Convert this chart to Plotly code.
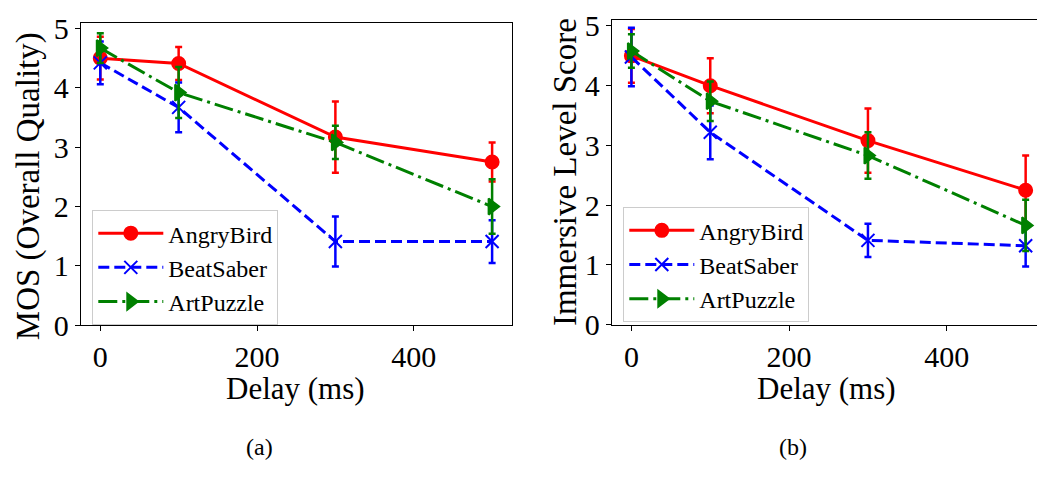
import plotly.graph_objects as go

# Delay settings (ms)
delay = [0, 100, 300, 500]
series_names = ["AngryBird", "BeatSaber", "ArtPuzzle"]

# (a) MOS (Overall Quality): means and error half-widths
mos_angry = [4.50, 4.41, 3.17, 2.75]
mos_angry_err = [0.36, 0.28, 0.60, 0.33]
mos_beat = [4.42, 3.67, 1.41, 1.41]
mos_beat_err = [0.36, 0.42, 0.42, 0.36]
mos_art = [4.67, 3.92, 3.08, 2.00]
mos_art_err = [0.25, 0.43, 0.28, 0.46]

# (b) Immersive level score: means and error half-widths
imm_angry = [4.50, 4.00, 3.08, 2.25]
imm_angry_err = [0.45, 0.46, 0.54, 0.58]
imm_beat = [4.48, 3.22, 1.41, 1.32]
imm_beat_err = [0.49, 0.45, 0.28, 0.35]
imm_art = [4.58, 3.74, 2.83, 1.66]
imm_art_err = [0.28, 0.33, 0.39, 0.43]

y_ticks = [0, 1, 2, 3, 4, 5]
x_ticks = [0, 200, 400]

FONT = "'Liberation Serif', 'Times New Roman', serif"
W, H = 1037, 480

styles = {
    "AngryBird": dict(color="#ff0000", dash="solid", symbol="circle", size=13),
    "BeatSaber": dict(color="#0000ff", dash="11px,5px", symbol="x-thin", size=13),
    "ArtPuzzle": dict(color="#008000", dash="19px,5px,3px,5px", symbol="triangle-right", size=14),
}

fig = go.Figure()


def add_series(name, y, err, xa, ya, legend):
    s = styles[name]
    fig.add_trace(go.Scatter(
        x=delay, y=y, name=name, mode="lines+markers",
        xaxis=xa, yaxis=ya, legend=legend,
        line=dict(color=s["color"], width=3, dash=s["dash"]),
        marker=dict(symbol=s["symbol"], size=s["size"], color=s["color"],
                    line=dict(color=s["color"], width=2)),
        error_y=dict(type="data", array=err, visible=True,
                     color=s["color"], thickness=2.5, width=3.5),
    ))


for name, y, e in zip(series_names, [mos_angry, mos_beat, mos_art],
                      [mos_angry_err, mos_beat_err, mos_art_err]):
    add_series(name, y, e, "x", "y", "legend")
for name, y, e in zip(series_names, [imm_angry, imm_beat, imm_art],
                      [imm_angry_err, imm_beat_err, imm_art_err]):
    add_series(name, y, e, "x2", "y2", "legend2")

axis_common = dict(
    showgrid=False, zeroline=False, showline=True, linecolor="black",
    linewidth=1, ticks="outside", ticklen=5, tickwidth=1, tickcolor="black",
    tickfont=dict(family=FONT, size=30, color="black"),
)

legend_common = dict(
    font=dict(family=FONT, size=24, color="black"),
    bgcolor="rgba(255,255,255,0.8)", bordercolor="#cccccc", borderwidth=1,
    xanchor="left", yanchor="top", traceorder="normal",
    itemwidth=65,
)

fig.update_layout(
    width=W, height=H, margin=dict(l=0, r=0, t=0, b=0),
    font=dict(family=FONT, color="black"),
    paper_bgcolor="white", plot_bgcolor="white",
    xaxis=dict(axis_common, domain=[80.7 / W, 511.7 / W], range=[-25, 525],
               tickvals=x_ticks, mirror=True, anchor="y"),
    yaxis=dict(axis_common, domain=[1 - 334 / H, 1 - 13.3 / H], range=[0, 5.1],
               tickvals=y_ticks, mirror=True, anchor="x"),
    xaxis2=dict(axis_common, domain=[611.7 / W, 1.0], range=[-25, 514.4],
                tickvals=x_ticks, mirror=True, anchor="y2"),
    yaxis2=dict(axis_common, domain=[1 - 333.3 / H, 1 - 10.6 / H], range=[0, 5.1],
                tickvals=y_ticks, mirror=False, anchor="x2"),
    legend=dict(legend_common, x=92.3 / W, y=1 - 212 / H),
    legend2=dict(legend_common, x=623.3 / W, y=1 - 209 / H),
    showlegend=True,
)

labels = [
    dict(text="MOS (Overall Quality)", x=28 / W, y=1 - 186.7 / H, textangle=-90, size=33),
    dict(text="Immersive Level Score", x=565 / W, y=1 - 171.7 / H, textangle=-90, size=33),
    dict(text="Delay (ms)", x=295.3 / W, y=1 - 401 / H, textangle=0, size=31),
    dict(text="Delay (ms)", x=826.7 / W, y=1 - 401 / H, textangle=0, size=31),
    dict(text="(a)", x=259 / W, y=1 - 463 / H, textangle=0, size=24),
    dict(text="(b)", x=792.5 / W, y=1 - 463 / H, textangle=0, size=24),
]
for lab in labels:
    fig.add_annotation(
        text=lab["text"], x=lab["x"], y=lab["y"], xref="paper", yref="paper",
        xanchor="center", yanchor="middle", textangle=lab["textangle"],
        showarrow=False, font=dict(family=FONT, size=lab["size"], color="black"),
    )

fig.write_html("out.html")
